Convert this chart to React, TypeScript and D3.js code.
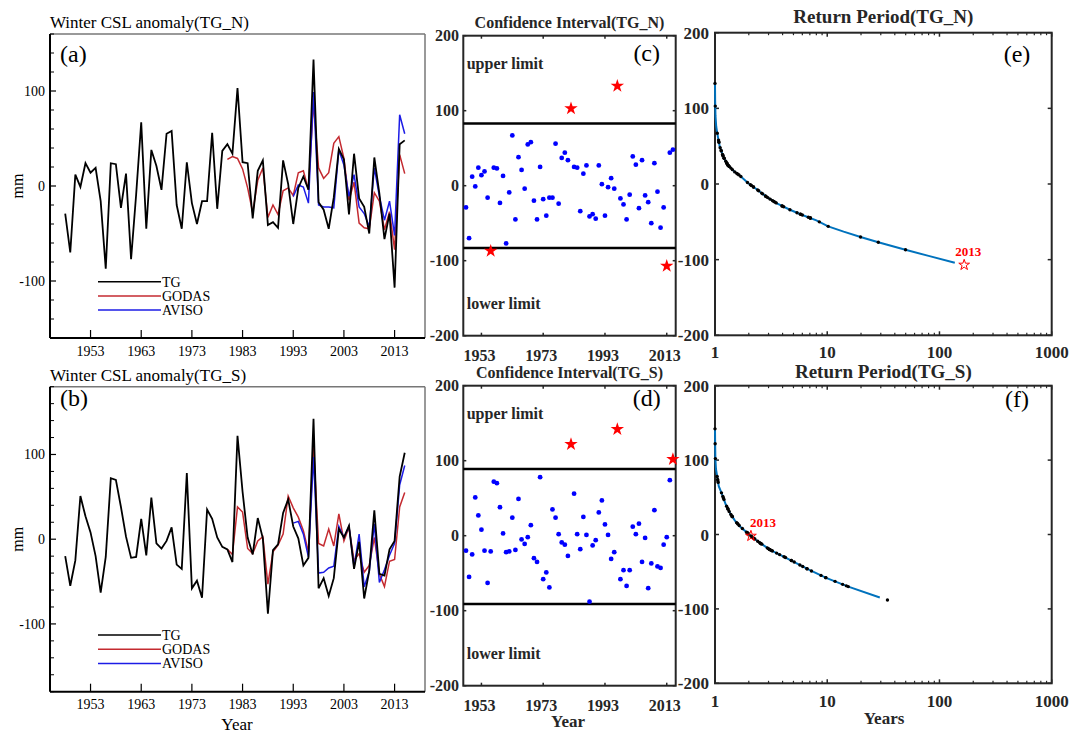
import React from 'react';
import * as d3 from 'd3';

// ---------- DATA ----------
const years = d3.range(1948, 2016);
const tgN = [-29, -70, 12, -1, 24, 14, 19, -16, -87, 24, 23, -23, 13, -77, -9, 67, -45, 38, 21, -4, 55, 58, -20, -45, 25, -18, -40, -16, -16, 56, -24, 37, 44, 34, 103, 25, 24, -34, 16, 27, -41, -38, -44, 27, 2, -40, -2, 10, -4, 133, -17, -25, -45, -12, 39, 28, -30, 34, -13, -22, -50, 30, -8, -56, -29, -107, 44, 48];
const godasYears = d3.range(1980, 2016);
const godasN = [28, 31, 29, 18, -2, -28, 6, 19, -33, -20, -30, -5, -2, -10, 14, 16, -4, 88, 19, 8, 14, 45, 52, 29, -15, 4, -39, -44, -45, -7, -16, -46, -27, -67, 33, 13];
const avisoYears = d3.range(1993, 2016);
const avisoN = [-11, 1, -1, -18, 99, -20, -22, -22, -23, 38, 22, -11, 12, -22, -29, -43, 19, -11, -36, -16, -52, 75, 55];

const tgS = [-20, -55, -25, 51, 27, 8, -20, -63, -21, 72, 70, 38, 3, -22, -21, 24, -19, 49, -5, -11, -2, 14, -30, -35, 78, -58, -49, -69, 35, 24, 2, -9, -12, -27, 122, 56, 2, -18, 25, 1, -88, -13, -6, 31, 47, 15, 1, -31, -22, 142, -58, -46, -67, -46, 12, 2, 16, -35, -3, -70, -37, 34, -41, -43, -12, -2, 74, 102];
const godasS = [-12, -18, 38, 32, -11, -17, -2, 3, -53, -15, -7, 6, 51, 37, 26, 10, -15, 109, -5, -8, 12, -8, 30, -2, 14, -25, -17, -39, -31, 2, -41, -56, -26, -24, 38, 55];
const avisoS = [19, 21, 6, -21, 97, -40, -39, -34, -32, 15, 2, 15, -33, 6, -56, -38, 18, -51, -36, -19, -5, 64, 87];

const limitN = [83, -83];
const limitS = [89, -91];

// return-period fitted curves (T in years, value in mm)
const rpN_T = [1.0, 1.003, 1.01, 1.025, 1.048, 1.1, 1.186, 1.3, 1.5, 1.67, 1.98, 2.4, 2.88, 3.6, 4.65, 6.0, 8.0, 10.2, 14, 19.8, 28.5, 47, 80, 137];
const rpN_V = [133, 110, 90, 76, 67, 50, 36, 25, 16, 11, 1, -8, -17, -26, -34, -41, -48, -56, -63, -70, -77, -86, -95, -104];
const rpS_T = [1.0, 1.003, 1.008, 1.02, 1.048, 1.08, 1.145, 1.25, 1.36, 1.5, 1.67, 2.05, 2.5, 3.1, 4.65, 7.0, 9.9, 15.4, 29.4];
const rpS_V = [142, 122, 101, 88, 77, 65, 55.6, 40, 28.8, 19, 10.8, -1, -11, -20.6, -34, -48, -58.6, -70, -84.7];
const rpN_tail: { T: number; v: number }[] = [];
const rpS_tail = [{ T: 34.4, v: -88 }];
const starN = { T: 166, v: -107, label: '2013' };
const starS = { T: 2.09, v: -2, label: '2013' };

const yearTicksA = [1953, 1963, 1973, 1983, 1993, 2003, 2013];
const yearTicksC = [1953, 1973, 1993, 2013];
const rpYTicks = [-200, -100, 0, 100, 200];
const rpXTicks = [1, 10, 100, 1000];

// ---------- STYLE ----------
const SERIF = '"Liberation Serif","Times New Roman",serif';
const AX = '#262626';
const RED = '#c42a30';
const BLUE = '#1c1ce6';

type LP = {
  top: number; bottom: number; yDomain: [number, number]; title: string; titleY: number;
  tag: string; tagY: number; tg: number[]; godas: number[]; aviso: number[];
  legendY: number; xLabelY: number; yearLabelY?: number;
};

function LinePanel(p: LP) {
  const left = 50, right = 425;
  const x = d3.scaleLinear().domain([1945, 2019]).range([left, right]);
  const y = d3.scaleLinear().domain(p.yDomain).range([p.bottom, p.top]);
  const line = d3.line<[number, number]>().x(d => x(d[0])).y(d => y(d[1]));
  const tgPts = years.map((yr, i) => [yr, p.tg[i]] as [number, number]);
  const gPts = godasYears.map((yr, i) => [yr, p.godas[i]] as [number, number]);
  const aPts = avisoYears.map((yr, i) => [yr, p.aviso[i]] as [number, number]);
  const minor = d3.range(Math.ceil(p.yDomain[0] / 20) * 20, p.yDomain[1] + 1, 20).filter(v => v % 100 !== 0);
  const major = [-100, 0, 100];
  const leg = [
    { name: 'TG', color: '#000' },
    { name: 'GODAS', color: RED },
    { name: 'AVISO', color: BLUE },
  ];
  return (
    <g fontFamily={SERIF}>
      <text x={50} y={p.titleY} fontSize={17}>{p.title}</text>
      <line x1={left} x2={right} y1={p.top} y2={p.top} stroke="#777" strokeWidth={1.5} />
      <line x1={right} x2={right} y1={p.top} y2={p.bottom} stroke="#777" strokeWidth={1.5} />
      <line x1={left} x2={left} y1={p.top} y2={p.bottom} stroke="#000" strokeWidth={2} />
      <line x1={left} x2={right} y1={p.bottom} y2={p.bottom} stroke="#000" strokeWidth={2} />
      {minor.map(v => <line key={'m' + v} x1={left} x2={left + 4} y1={y(v)} y2={y(v)} stroke="#000" strokeWidth={1} />)}
      {major.map(v => (
        <g key={'M' + v}>
          <line x1={left} x2={left + 6} y1={y(v)} y2={y(v)} stroke="#000" strokeWidth={1.2} />
          <text x={45} y={y(v) + 5} fontSize={14} textAnchor="end">{v}</text>
        </g>
      ))}
      {yearTicksA.map(t => (
        <g key={'x' + t}>
          <line x1={x(t)} x2={x(t)} y1={p.bottom} y2={p.bottom - 8} stroke="#000" strokeWidth={1.2} />
          <text x={x(t)} y={p.xLabelY} fontSize={14} textAnchor="middle">{t}</text>
        </g>
      ))}
      <text transform={`translate(23,${(p.top + p.bottom) / 2}) rotate(-90)`} fontSize={16} textAnchor="middle">mm</text>
      {p.yearLabelY && <text x={237} y={p.yearLabelY} fontSize={17} textAnchor="middle">Year</text>}
      <text x={60} y={p.tagY} fontSize={24}>{p.tag}</text>
      <path d={line(gPts) || ''} fill="none" stroke={RED} strokeWidth={1.5} />
      <path d={line(aPts) || ''} fill="none" stroke={BLUE} strokeWidth={1.5} />
      <path d={line(tgPts) || ''} fill="none" stroke="#000" strokeWidth={1.8} />
      {leg.map((l, i) => (
        <g key={l.name}>
          <line x1={98} x2={161} y1={p.legendY + i * 14.2} y2={p.legendY + i * 14.2} stroke={l.color} strokeWidth={1.5} />
          <text x={162} y={p.legendY + i * 14.2 + 5} fontSize={14}>{l.name}</text>
        </g>
      ))}
    </g>
  );
}

type CP = {
  top: number; bottom: number; title: string; titleY: number; tag: string; tagY: number;
  values: number[]; limits: number[]; upperY: number; lowerY: number; xLabelY: number; yearLabelY?: number;
};

function CIPanel(p: CP) {
  const left = 463.3, right = 675.7;
  const x = d3.scaleLinear().domain([1947.13, 2015.9]).range([left, right]);
  const y = d3.scaleLinear().domain([-200, 200]).range([p.bottom, p.top]);
  const star = d3.symbol().type(d3.symbolStar).size(56)() || '';
  const [hi, lo] = p.limits;
  return (
    <g fontFamily={SERIF} fill={AX}>
      <text x={(left + right) / 2} y={p.titleY} fontSize={16} fontWeight="bold" textAnchor="middle">{p.title}</text>
      <rect x={left} y={p.top} width={right - left} height={p.bottom - p.top} fill="none" stroke={AX} strokeWidth={2} />
      {rpYTicks.map(v => (
        <g key={'y' + v}>
          <line x1={left} x2={left + 3} y1={y(v)} y2={y(v)} stroke={AX} strokeWidth={1.5} />
          <line x1={right} x2={right - 3} y1={y(v)} y2={y(v)} stroke={AX} strokeWidth={1.5} />
          <text x={459} y={y(v) + 5.5} fontSize={16} fontWeight="bold" textAnchor="end">{v}</text>
        </g>
      ))}
      {yearTicksC.map(t => (
        <g key={'x' + t}>
          <line x1={x(t)} x2={x(t)} y1={p.bottom} y2={p.bottom - 3} stroke={AX} strokeWidth={1.5} />
          <line x1={x(t)} x2={x(t)} y1={p.top} y2={p.top + 3} stroke={AX} strokeWidth={1.5} />
          <text x={x(t) - 2} y={p.xLabelY} fontSize={16} fontWeight="bold" textAnchor="middle">{t}</text>
        </g>
      ))}
      {p.yearLabelY && <text x={568} y={p.yearLabelY} fontSize={17} fontWeight="bold" textAnchor="middle">Year</text>}
      <line x1={left} x2={right} y1={y(hi)} y2={y(hi)} stroke="#000" strokeWidth={2.5} />
      <line x1={left} x2={right} y1={y(lo)} y2={y(lo)} stroke="#000" strokeWidth={2.5} />
      <text x={466.7} y={p.upperY} fontSize={16} fontWeight="bold">upper limit</text>
      <text x={466.7} y={p.lowerY} fontSize={16} fontWeight="bold">lower limit</text>
      <text x={646.7} y={p.tagY} fontSize={24} textAnchor="middle" fill="#000">{p.tag}</text>
      {years.map((yr, i) => {
        const v = p.values[i];
        if (v > hi || v < lo) {
          return <path key={yr} d={star} transform={`translate(${x(yr)},${y(v)})`} fill="#ff0000" />;
        }
        return <circle key={yr} cx={x(yr)} cy={y(v)} r={2.4} fill="#0000ff" />;
      })}
    </g>
  );
}

function tOnCurve(v: number, T: number[], V: number[]): number | null {
  if (v >= V[0]) return T[0];
  for (let i = 0; i < V.length - 1; i++) {
    const a = V[i], b = V[i + 1];
    if (v <= a && v >= b) {
      const f = (a - v) / (a - b);
      const la = Math.log10(T[i]), lb = Math.log10(T[i + 1]);
      return Math.pow(10, la + f * (lb - la));
    }
  }
  return null;
}

type RP = {
  top: number; bottom: number; title: string; titleY: number; tag: string; tagY: number;
  curveT: number[]; curveV: number[]; values: number[]; tail: { T: number; v: number }[];
  star: { T: number; v: number; label: string }; labelDx: number; xLabelY: number; yearsLabelY?: number;
};

function RPPanel(p: RP) {
  const left = 715, right = 1051.7;
  const x = d3.scaleLog().domain([1, 1000]).range([left, right]);
  const y = d3.scaleLinear().domain([-200, 200]).range([p.bottom, p.top]);
  const line = d3.line<number>().x((_, i) => x(p.curveT[i])).y(d => y(d));
  const minorX: number[] = [];
  [1, 10, 100].forEach(dec => { for (let k = 2; k <= 9; k++) minorX.push(dec * k); });
  const starPath = d3.symbol().type(d3.symbolStar).size(36)() || '';
  const starYear = +p.star.label;
  const dots = years
    .map((yr, i) => ({ yr, v: p.values[i] }))
    .filter(d => d.yr !== starYear)
    .map(d => ({ v: d.v, T: tOnCurve(d.v, p.curveT, p.curveV) }))
    .filter(d => d.T !== null) as { v: number; T: number }[];
  return (
    <g fontFamily={SERIF} fill={AX}>
      <text x={(left + right) / 2} y={p.titleY} fontSize={19} fontWeight="bold" textAnchor="middle">{p.title}</text>
      <rect x={left} y={p.top} width={right - left} height={p.bottom - p.top} fill="none" stroke={AX} strokeWidth={2} />
      {rpYTicks.map(v => (
        <g key={'y' + v}>
          <line x1={left} x2={left + 4} y1={y(v)} y2={y(v)} stroke={AX} strokeWidth={1.5} />
          <line x1={right} x2={right - 4} y1={y(v)} y2={y(v)} stroke={AX} strokeWidth={1.5} />
          <text x={709} y={y(v) + 6} fontSize={17} fontWeight="bold" textAnchor="end">{v}</text>
        </g>
      ))}
      {minorX.map(t => (
        <g key={'mx' + t}>
          <line x1={x(t)} x2={x(t)} y1={p.bottom} y2={p.bottom - 2.5} stroke={AX} strokeWidth={1.2} />
          <line x1={x(t)} x2={x(t)} y1={p.top} y2={p.top + 2.5} stroke={AX} strokeWidth={1.2} />
        </g>
      ))}
      {rpXTicks.map(t => (
        <g key={'x' + t}>
          <line x1={x(t)} x2={x(t)} y1={p.bottom} y2={p.bottom - 4} stroke={AX} strokeWidth={1.5} />
          <line x1={x(t)} x2={x(t)} y1={p.top} y2={p.top + 4} stroke={AX} strokeWidth={1.5} />
          <text x={x(t)} y={p.xLabelY} fontSize={17} fontWeight="bold" textAnchor="middle">{t}</text>
        </g>
      ))}
      {p.yearsLabelY && <text x={884} y={p.yearsLabelY} fontSize={17} fontWeight="bold" textAnchor="middle">Years</text>}
      <text x={1017} y={p.tagY} fontSize={24} textAnchor="middle" fill="#000">{p.tag}</text>
      <path d={line(p.curveV) || ''} fill="none" stroke="#0072BD" strokeWidth={2} />
      {dots.map((d, i) => <circle key={i} cx={x(d.T)} cy={y(d.v)} r={1.7} fill="#000" />)}
      {p.tail.map((d, i) => <circle key={'t' + i} cx={x(d.T)} cy={y(d.v)} r={1.7} fill="#000" />)}
      <path d={starPath} transform={`translate(${x(p.star.T)},${y(p.star.v)})`} fill="none" stroke="#ff0000" strokeWidth={1} />
      <text x={x(p.star.T) + p.labelDx} y={y(p.star.v) - 9} fontSize={13} fontWeight="bold" fill="#ff0000" textAnchor="middle">{p.star.label}</text>
    </g>
  );
}

export default function App() {
  return (
    <svg width={1084} height={733} viewBox="0 0 1084 733" style={{ display: 'block', position: 'absolute', left: 0, top: 0, background: '#fff' }}>
      <rect x={0} y={0} width={1084} height={733} fill="#fff" />
      <LinePanel top={34} bottom={338} yDomain={[-160, 160]} title="Winter CSL anomaly(TG_N)" titleY={28}
        tag="(a)" tagY={61.5} tg={tgN} godas={godasN} aviso={avisoN} legendY={281.7} xLabelY={356} />
      <LinePanel top={386.7} bottom={691.7} yDomain={[-180, 180]} title="Winter CSL anomaly(TG_S)" titleY={381}
        tag="(b)" tagY={406} tg={tgS} godas={godasS} aviso={avisoS} legendY={635} xLabelY={709} yearLabelY={730} />
      <CIPanel top={35.7} bottom={335.7} title="Confidence Interval(TG_N)" titleY={28} tag="(c)" tagY={61}
        values={tgN} limits={limitN} upperY={69} lowerY={309} xLabelY={361} />
      <CIPanel top={385.7} bottom={685.7} title="Confidence Interval(TG_S)" titleY={378} tag="(d)" tagY={406}
        values={tgS} limits={limitS} upperY={419} lowerY={659} xLabelY={711} yearLabelY={727} />
      <RPPanel top={32.7} bottom={335.3} title="Return Period(TG_N)" titleY={23} tag="(e)" tagY={62}
        curveT={rpN_T} curveV={rpN_V} values={tgN} tail={rpN_tail} star={starN} labelDx={4} xLabelY={358} />
      <RPPanel top={385.7} bottom={683.3} title="Return Period(TG_S)" titleY={378} tag="(f)" tagY={407}
        curveT={rpS_T} curveV={rpS_V} values={tgS} tail={rpS_tail} star={starS} labelDx={12} xLabelY={706.5} yearsLabelY={724} />
    </svg>
  );
}
